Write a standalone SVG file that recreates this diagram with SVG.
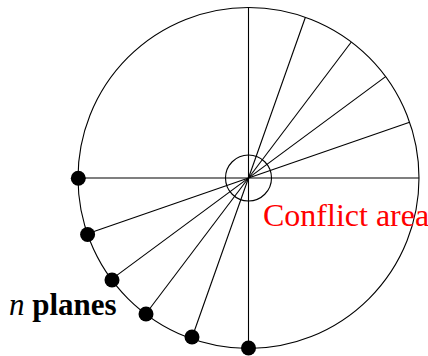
<svg xmlns="http://www.w3.org/2000/svg" width="428" height="356" viewBox="0 0 428 356">
<style>
.ln{stroke:#000;stroke-width:1.1;fill:none}
.dot{fill:#000}
.red{fill:#ff0000;font-size:32px}
.lbl{fill:#000;font-size:31px}
</style>
<rect width="428" height="356" fill="#fff"/>
<g id="outer-circle"><circle class="ln" cx="248.5" cy="178" r="170.5"/></g>
<g id="connectors">
<line class="ln" x1="78" y1="178" x2="419" y2="178"/>
<line class="ln" x1="87.4" y1="233.8" x2="409.6" y2="122.2"/>
<line class="ln" x1="111.4" y1="279.4" x2="385.6" y2="76.6"/>
<line class="ln" x1="145.7" y1="314" x2="351.3" y2="42"/>
<line class="ln" x1="191.6" y1="338.7" x2="305.4" y2="17.3"/>
<line class="ln" x1="248.5" y1="348.5" x2="248.5" y2="7.5"/>
</g>
<g id="conflict-area"><circle class="ln" cx="248.5" cy="178" r="23"/>
<text class="red" font-family="'Liberation Serif', 'DejaVu Serif', serif" x="263" y="226">Conflict area</text></g>
<g id="plane1"><circle class="dot" cx="78.3" cy="178.3" r="7.5"/></g>
<g id="plane2"><circle class="dot" cx="87.6" cy="234.5" r="7.5"/></g>
<g id="plane3"><circle class="dot" cx="112" cy="280" r="7.5"/></g>
<g id="plane4"><circle class="dot" cx="146" cy="314" r="7.5"/></g>
<g id="plane5"><circle class="dot" cx="192" cy="337" r="7.5"/></g>
<g id="plane6"><circle class="dot" cx="248.5" cy="348" r="7.5"/></g>
<g id="label"><text class="lbl" font-family="'Liberation Serif', 'DejaVu Serif', serif" x="9" y="315"><tspan font-style="italic">n</tspan> <tspan font-weight="bold">planes</tspan></text></g>
</svg>
